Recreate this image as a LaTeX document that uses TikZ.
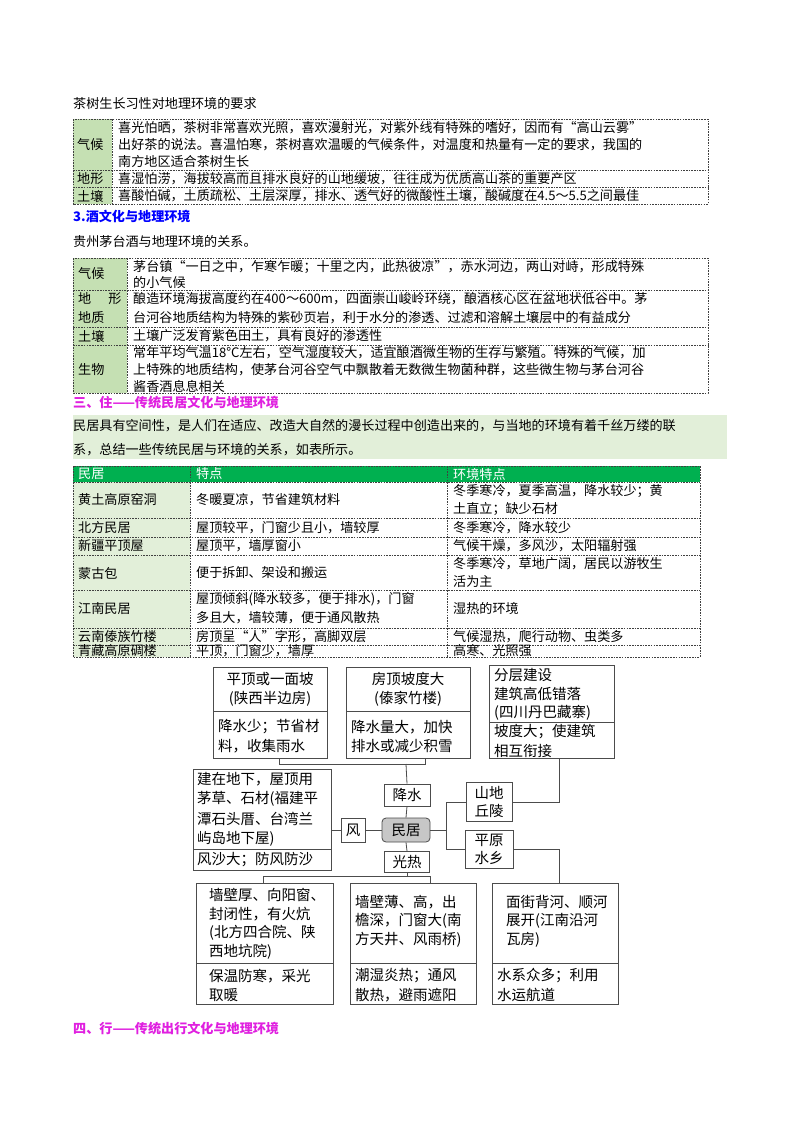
\documentclass[tikz,border=0pt]{standalone}
\usepackage{fontspec}
\setmainfont{Noto Sans CJK SC}
\begin{document}
\begin{tikzpicture}[x=1pt,y=-1pt,
  t/.style={anchor=west,inner sep=0pt,font=\fontsize{13.1}{14}\selectfont},
  d/.style={anchor=west,inner sep=0pt,font=\fontsize{14.5}{16}\selectfont},
  dc/.style={inner sep=0pt,font=\fontsize{14.5}{16}\selectfont},
  dl/.style={draw=black!75,line width=0.8pt,dash pattern=on 1.6pt off 1.1pt},
  bx/.style={draw=black!70,line width=0.8pt},
  sb/.style={draw=black!70,line width=0.8pt,inner sep=0pt,align=center,font=\fontsize{14.5}{18}\selectfont},
  ln/.style={draw=black!70,line width=0.8pt}]
\useasboundingbox (0,0) rectangle (800,1132);
\fill[white] (0,0) rectangle (800,1132);
\definecolor{lg}{HTML}{C5E0B3}
\definecolor{pg}{HTML}{E2EFD9}
\definecolor{hg}{HTML}{00B050}
\definecolor{mg}{HTML}{E020E0}
% ---------- table 1
\node[t] (t1) at (73,104) {茶树生长习性对地理环境的要求};
\fill[lg] (73,119) rectangle (112,204);
\draw[dl] (73,119) rectangle (708,204);
\draw[dl] (112,119) -- (112,204) (73,170) -- (708,170) (73,187) -- (708,187);
\node[t] (a1) at (77,145) {气候};
\node[t] (a2) at (77,179) {地形};
\node[t] (a3) at (77,196) {土壤};
\node[t] (b1) at (118,128) {喜光怕晒，茶树非常喜欢光照，喜欢漫射光，对紫外线有特殊的嗜好，因而有“高山云雾”};
\node[t] (b2) at (118,145) {出好茶的说法。喜温怕寒，茶树喜欢温暖的气候条件，对温度和热量有一定的要求，我国的};
\node[t] (b3) at (118,162) {南方地区适合茶树生长};
\node[t] (b4) at (118,179) {喜湿怕涝，海拔较高而且排水良好的山地缓坡，往往成为优质高山茶的重要产区};
\node[t] (b5) at (118,196) {喜酸怕碱，土质疏松、土层深厚，排水、透气好的微酸性土壤，酸碱度在4.5～5.5之间最佳};
\node[t,text=blue,font=\fontsize{13.1}{14}\selectfont\bfseries] (h3) at (73,216) {3.酒文化与地理环境};
% ---------- table 2
\node[t] (t2) at (73,242) {贵州茅台酒与地理环境的关系。};
\fill[lg] (73,258) rectangle (127,393);
\draw[dl] (73,258) rectangle (708,393);
\draw[dl] (127,258) -- (127,393) (73,290) -- (708,290) (73,327) -- (708,327) (73,345) -- (708,345);
\node[t] (c1) at (78,274) {气候};
\node[t] (c2) at (78,299) {地\hspace{1.3em}形};
\node[t] (c3) at (78,318) {地质};
\node[t] (c4) at (78,336) {土壤};
\node[t] (c5) at (78,370) {生物};
\node[t] (e1) at (133,267) {茅台镇“一日之中，乍寒乍暖；十里之内，此热彼凉”，赤水河边，两山对峙，形成特殊};
\node[t] (e2) at (133,283) {的小气候};
\node[t] (e3) at (133,299) {酿造环境海拔高度约在400～600m，四面崇山峻岭环绕，酿酒核心区在盆地状低谷中。茅};
\node[t] (e4) at (133,318) {台河谷地质结构为特殊的紫砂页岩，利于水分的渗透、过滤和溶解土壤层中的有益成分};
\node[t] (e5) at (133,336) {土壤广泛发育紫色田土，具有良好的渗透性};
\node[t] (e6) at (133,353) {常年平均气温18°C左右，空气湿度较大，适宜酿酒微生物的生存与繁殖。特殊的气候，加};
\node[t] (e7) at (133,370) {上特殊的地质结构，使茅台河谷空气中飘散着无数微生物菌种群，这些微生物与茅台河谷};
\node[t] (e8) at (133,386) {酱香酒息息相关};
\node[t,text=mg,font=\fontsize{13.1}{14}\selectfont\bfseries] (h4) at (73,403) {三、住——传统民居文化与地理环境};
% ---------- paragraph
\fill[pg] (73,415) rectangle (727,459);
\node[t] (p1) at (73,426) {民居具有空间性，是人们在适应、改造大自然的漫长过程中创造出来的，与当地的环境有着千丝万缕的联};
\node[t] (p2) at (73,450) {系，总结一些传统民居与环境的关系，如表所示。};
% ---------- table 3
\fill[hg] (73,466) rectangle (700,482);
\fill[pg] (73,482) rectangle (190,657);
\draw[dl] (73,466) rectangle (700,657);
\draw[dl] (190,466) -- (190,657) (447,466) -- (447,657);
\foreach \yy in {482,518,537,555,590,628,645} \draw[dl] (73,\yy) -- (700,\yy);
\node[t,text=white] (r0a) at (78,474) {民居};
\node[t,text=white] (r0b) at (196,474) {特点};
\node[t,text=white] (r0c) at (453,474) {环境特点};
\node[t] (r1a) at (78,500) {黄土高原窑洞};
\node[t] (r1b) at (196,500) {冬暖夏凉，节省建筑材料};
\node[t] (r1c) at (453,491) {冬季寒冷，夏季高温，降水较少；黄};
\node[t] (r1d) at (453,509) {土直立；缺少石材};
\node[t] (r2a) at (78,528) {北方民居};
\node[t] (r2b) at (196,528) {屋顶较平，门窗少且小，墙较厚};
\node[t] (r2c) at (453,528) {冬季寒冷，降水较少};
\node[t] (r3a) at (78,546) {新疆平顶屋};
\node[t] (r3b) at (196,546) {屋顶平，墙厚窗小};
\node[t] (r3c) at (453,546) {气候干燥，多风沙，太阳辐射强};
\node[t] (r4a) at (78,573) {蒙古包};
\node[t] (r4b) at (196,573) {便于拆卸、架设和搬运};
\node[t] (r4c) at (453,564) {冬季寒冷，草地广阔，居民以游牧生};
\node[t] (r4d) at (453,582) {活为主};
\node[t] (r5a) at (78,609) {江南民居};
\node[t] (r5b) at (196,599) {屋顶倾斜(降水较多，便于排水)，门窗};
\node[t] (r5c) at (196,618) {多且大，墙较薄，便于通风散热};
\node[t] (r5d) at (453,609) {湿热的环境};
\node[t] (r6a) at (78,637) {云南傣族竹楼};
\node[t] (r6b) at (196,637) {房顶呈“人”字形，高脚双层};
\node[t] (r6c) at (453,637) {气候湿热，爬行动物、虫类多};
\node[t] (r7a) at (78,651) {青藏高原碉楼};
\node[t] (r7b) at (196,651) {平顶，门窗少，墙厚};
\node[t] (r7c) at (453,651) {高寒、光照强};
% ---------- diagram boxes
\draw[bx] (213,667) rectangle (327,758); \draw[bx] (213,711) -- (327,711);
\draw[bx] (346,667) rectangle (470,758); \draw[bx] (346,711) -- (470,711);
\draw[bx] (489,665) rectangle (614,758); \draw[bx] (489,722) -- (614,722);
\draw[bx] (193,769) rectangle (331,870); \draw[bx] (193,849) -- (331,849);
\draw[bx] (196,883) rectangle (333,1004); \draw[bx] (196,963) -- (333,963);
\draw[bx] (350,883) rectangle (476,1004); \draw[bx] (350,963) -- (476,963);
\draw[bx] (492,883) rectangle (618,1004); \draw[bx] (492,963) -- (618,963);
\node[dc] (A1) at (270,679) {平顶或一面坡};
\node[dc] (A2) at (270,699) {(陕西半边房)};
\node[d] (A3) at (218,727) {降水少；节省材};
\node[d] (A4) at (218,746) {料，收集雨水};
\node[dc] (B1) at (408,679) {房顶坡度大};
\node[dc] (B2) at (408,699) {(傣家竹楼)};
\node[d] (B3) at (351,727) {降水量大，加快};
\node[d] (B4) at (351,746) {排水或减少积雪};
\node[d] (C1) at (494,675) {分层建设};
\node[d] (C2) at (494,694) {建筑高低错落};
\node[d] (C3) at (494,713) {(四川丹巴藏寨)};
\node[d] (C4) at (494,732) {坡度大；使建筑};
\node[d] (C5) at (494,751) {相互衔接};
\node[d] (D1) at (197,779) {建在地下，屋顶用};
\node[d] (D2) at (197,799) {茅草、石材(福建平};
\node[d] (D3) at (197,819) {潭石头厝、台湾兰};
\node[d] (D4) at (197,839) {屿岛地下屋)};
\node[d] (D5) at (197,860) {风沙大；防风防沙};
\node[d] (E1) at (209,895) {墙壁厚、向阳窗、};
\node[d] (E2) at (209,914) {封闭性，有火炕};
\node[d] (E3) at (209,933) {(北方四合院、陕};
\node[d] (E4) at (209,952) {西地坑院)};
\node[d] (E5) at (209,976) {保温防寒，采光};
\node[d] (E6) at (209,995) {取暖};
\node[d] (F1) at (355,902) {墙壁薄、高，出};
\node[d] (F2) at (355,921) {檐深，门窗大(南};
\node[d] (F3) at (355,940) {方天井、风雨桥)};
\node[d] (F4) at (355,976) {潮湿炎热；通风};
\node[d] (F5) at (355,995) {散热，避雨遮阳};
\node[d] (G1) at (506,902) {面街背河、顺河};
\node[d] (G2) at (506,921) {展开(江南沿河};
\node[d] (G3) at (506,940) {瓦房)};
\node[d] (G4) at (497,976) {水系众多；利用};
\node[d] (G5) at (497,995) {水运航道};
% small boxes
\node[sb,minimum width=46pt,minimum height=22pt] (js) at (407,795) {降水};
\node[sb,rounded corners=4pt,fill=black!22,minimum width=48pt,minimum height=24pt] (mj) at (406,830) {民居};
\node[sb,minimum width=24pt,minimum height=24pt] (fe) at (353,830) {风};
\node[sb,minimum width=46pt,minimum height=39pt] (sd) at (489,802) {山地\\丘陵};
\node[sb,minimum width=48pt,minimum height=38pt] (py) at (489,849) {平原\\水乡};
\node[sb,minimum width=45pt,minimum height=21pt] (gr) at (407,862) {光热};
% connectors
\coordinate (aB) at (279,758); \coordinate (bB) at (425,758);
\coordinate (cB) at (559,758); \coordinate (dR) at (331,830);
\coordinate (eT) at (263,883); \coordinate (fT) at (430,883); \coordinate (gT) at (559,883);
\draw[ln] (aB) -- (279,764) -- (425,764) -- (bB);
\draw[ln] (406,764) -- (js.north);
\draw[ln] (js.south) -- (mj.north);
\draw[ln] (mj.south) -- (gr.north);
\draw[ln] (dR) -- (fe.west);
\draw[ln] (fe.east) -- (mj.west);
\draw[ln] (mj.east) -- (446,830);
\draw[ln] (446,802) -- (446,849);
\draw[ln] (446,802) -- (sd.west);
\draw[ln] (446,849) -- (py.west);
\draw[ln] (cB) -- (559,802) -- (sd.east);
\draw[ln] (py.east) -- (559,849) -- (gT);
\draw[ln] (gr.south) -- (407,876);
\draw[ln] (eT) -- (263,876) -- (430,876) -- (fT);
\node[t,text=mg,font=\fontsize{13.1}{14}\selectfont\bfseries] (h5) at (73,1028) {四、行——传统出行文化与地理环境};
\end{tikzpicture}
\end{document}
